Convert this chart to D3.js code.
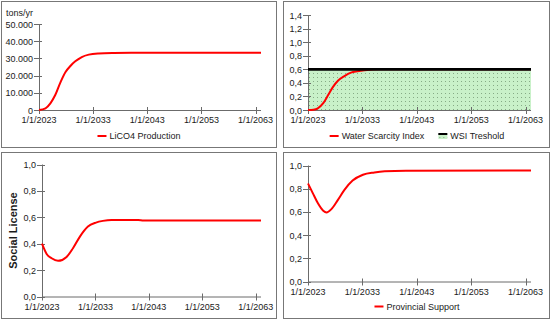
<!DOCTYPE html>
<html>
<head>
<meta charset="utf-8">
<script src="https://cdn.jsdelivr.net/npm/d3@7"></script>
<style>
  body { margin: 0; background: #fff; }
  svg { display: block; font-family: "Liberation Sans", Arial, sans-serif; }
</style>
</head>
<body>
<div id="my_dataviz"></div>
<script>

// x axis ticks shared by all four charts
var xTickYears = [2023, 2033, 2043, 2053, 2063];
var xTickLabels = ["1/1/2023", "1/1/2033", "1/1/2043", "1/1/2053", "1/1/2063"];

// LiCO4 production (tons/yr)
var prodYears = [2023, 2024.2, 2025.1, 2026, 2027, 2027.9, 2028.8, 2029.7, 2030.9, 2032.2, 2034, 2036.8, 2040, 2064];
var lico4Production = [0, 1000, 3900, 8700, 16400, 22100, 25600, 28300, 30800, 32200, 32900, 33200, 33300, 33300];
var prodTicks = [0, 10000, 20000, 30000, 40000, 50000];

// Water scarcity index and threshold
var wsiYears = [2023, 2024, 2024.8, 2025.8, 2026.7, 2027.6, 2028.5, 2029.7, 2030.9, 2032.1, 2033.4, 2036, 2064];
var waterScarcity = [0, 0.005, 0.025, 0.1, 0.22, 0.34, 0.43, 0.50, 0.55, 0.57, 0.585, 0.6, 0.6];
var wsiThreshold = 0.6;
var wsiTicks = [0, 0.2, 0.4, 0.6, 0.8, 1.0, 1.2, 1.4];

// Social license
var socialYears = [2023, 2023.9, 2024.8, 2026, 2027.6, 2028.8, 2030.1, 2031.6, 2033.1, 2034.4, 2036, 2041, 2042, 2064];
var socialLicense = [0.40, 0.32, 0.29, 0.27, 0.30, 0.366, 0.454, 0.53, 0.56, 0.573, 0.58, 0.58, 0.575, 0.575];

// Provincial support
var provYears = [2023, 2023.9, 2024.8, 2025.8, 2026.4, 2027.3, 2028.5, 2029.7, 2031.2, 2033.1, 2035.2, 2037.1, 2041, 2064];
var provincialSupport = [0.845, 0.76, 0.676, 0.61, 0.595, 0.624, 0.704, 0.79, 0.87, 0.92, 0.94, 0.95, 0.955, 0.957];
var unitTicks = [0, 0.2, 0.4, 0.6, 0.8, 1.0];

var locale = d3.formatLocale({decimal: ",", thousands: ".", grouping: [3], currency: ["", ""]});
var fmtThousands = locale.format(",d");
var fmtOne = locale.format(".1f");

var axisColor = "#6b6b6b";
var lineColor = "#ff0000";

var svg = d3.select("#my_dataviz")
  .append("svg")
    .attr("width", 551)
    .attr("height", 321);

// dotted green fill for the threshold area
var defs = svg.append("defs");
var pattern = defs.append("pattern")
    .attr("id", "dots")
    .attr("patternUnits", "userSpaceOnUse")
    .attr("width", 4)
    .attr("height", 4);
pattern.append("rect").attr("width", 4).attr("height", 4).attr("fill", "#c9f1c9");
pattern.append("rect").attr("x", 1).attr("y", 1).attr("width", 1).attr("height", 1).attr("fill", "#86ab86");

// panel frames
var frames = [[1, 1, 276, 147], [283, 1, 549, 147], [1, 152, 276, 318], [283, 152, 549, 318]];
svg.selectAll("rect.frame")
  .data(frames)
  .enter().append("rect")
    .attr("class", "frame")
    .attr("x", function(d) { return d[0] + 0.5; })
    .attr("y", function(d) { return d[1] + 0.5; })
    .attr("width", function(d) { return d[2] - d[0]; })
    .attr("height", function(d) { return d[3] - d[1]; })
    .attr("fill", "none")
    .attr("stroke", "#777");

function drawAxes(g, x, y, yTicks, fmt) {
  var x0 = x.range()[0], x1 = x.range()[1];
  var y0 = y.range()[0], yTop = y(yTicks[yTicks.length - 1]);

  // x axis line + crossing ticks
  g.append("line")
    .attr("x1", x0).attr("x2", x1)
    .attr("y1", y0 + 0.5).attr("y2", y0 + 0.5)
    .attr("stroke", axisColor);
  g.selectAll("line.xt")
    .data(xTickYears)
    .enter().append("line")
      .attr("x1", function(d) { return Math.round(x(d)) + 0.5; })
      .attr("x2", function(d) { return Math.round(x(d)) + 0.5; })
      .attr("y1", y0 - 3).attr("y2", y0 + 4)
      .attr("stroke", axisColor);
  g.selectAll("text.xl")
    .data(xTickYears)
    .enter().append("text")
      .attr("x", function(d) { return x(d); })
      .attr("y", y0 + 13)
      .attr("text-anchor", "middle")
      .attr("font-size", "9px")
      .attr("fill", "#1a1a1a")
      .text(function(d, i) { return xTickLabels[i]; });

  // y axis line + ticks
  g.append("line")
    .attr("x1", x0 + 0.5).attr("x2", x0 + 0.5)
    .attr("y1", yTop).attr("y2", y0)
    .attr("stroke", axisColor);
  g.selectAll("line.yt")
    .data(yTicks)
    .enter().append("line")
      .attr("x1", x0 - 5).attr("x2", x0 + 3)
      .attr("y1", function(d) { return Math.round(y(d)) + 0.5; })
      .attr("y2", function(d) { return Math.round(y(d)) + 0.5; })
      .attr("stroke", axisColor);
  g.selectAll("text.yl")
    .data(yTicks)
    .enter().append("text")
      .attr("x", x0 - 6)
      .attr("y", function(d) { return y(d) + 3.5; })
      .attr("text-anchor", "end")
      .attr("font-size", "9px")
      .attr("fill", "#1a1a1a")
      .text(function(d) { return fmt(d); });
}

function drawLine(g, x, y, xs, ys, color, width) {
  var line = d3.line()
    .curve(d3.curveMonotoneX)
    .x(function(d) { return x(d[0]); })
    .y(function(d) { return y(d[1]); });
  g.append("path")
    .datum(d3.zip(xs, ys))
    .attr("d", line)
    .attr("fill", "none")
    .attr("stroke", color)
    .attr("stroke-width", width);
}

// legend centred on a panel; items = [{label, type}]
function drawLegend(g, cx, cy, items) {
  var leg = g.append("g");
  var pos = 0;
  items.forEach(function(it, i) {
    if (i > 0) pos += 14;
    var item = leg.append("g").attr("transform", "translate(" + pos + ",0)");
    if (it.type == "line") {
      item.append("line")
        .attr("x1", 0).attr("x2", 9)
        .attr("y1", 0).attr("y2", 0)
        .attr("stroke", lineColor).attr("stroke-width", 2);
    } else {
      item.append("rect").attr("x", 0).attr("y", -2).attr("width", 9).attr("height", 5).attr("fill", "url(#dots)");
      item.append("line")
        .attr("x1", 0).attr("x2", 9)
        .attr("y1", -2).attr("y2", -2)
        .attr("stroke", "#000").attr("stroke-width", 2);
    }
    var t = item.append("text")
      .attr("x", 12)
      .attr("y", 3.2)
      .attr("font-size", "9px")
      .attr("fill", "#1a1a1a")
      .text(it.label);
    pos += 12 + t.node().getComputedTextLength();
  });
  leg.attr("transform", "translate(" + (cx - pos / 2) + "," + cy + ")");
}

// ---------------- LiCO4 production ----------------
var g1 = svg.append("g");
var x1 = d3.scaleLinear().domain([2023, 2064]).range([39, 261]);
var y1 = d3.scaleLinear().domain([0, 50000]).range([110, 24]);
drawAxes(g1, x1, y1, prodTicks, function(d) { return d == 0 ? "0" : fmtThousands(d); });
drawLine(g1, x1, y1, prodYears, lico4Production, lineColor, 2);
g1.append("text")
  .attr("x", 6).attr("y", 16)
  .attr("font-size", "9px").attr("fill", "#1a1a1a")
  .text("tons/yr");
drawLegend(g1, 139, 136, [{label: "LiCO4 Production", type: "line"}]);

// ---------------- Water scarcity ----------------
var g2 = svg.append("g");
var x2 = d3.scaleLinear().domain([2023, 2064]).range([308, 531]);
var y2 = d3.scaleLinear().domain([0, 1.4]).range([110, 15]);
g2.append("rect")
  .attr("x", x2(2023))
  .attr("y", y2(wsiThreshold))
  .attr("width", x2(2064) - x2(2023))
  .attr("height", y2(0) - y2(wsiThreshold))
  .attr("fill", "url(#dots)");
drawAxes(g2, x2, y2, wsiTicks, fmtOne);
drawLine(g2, x2, y2, wsiYears, waterScarcity, lineColor, 2);
// threshold drawn on top, slightly wider so the index hides under it once it reaches 0,6
g2.append("line")
  .attr("x1", x2(2023)).attr("x2", x2(2064))
  .attr("y1", y2(wsiThreshold)).attr("y2", y2(wsiThreshold))
  .attr("stroke", "#000").attr("stroke-width", 2.8);
drawLegend(g2, 417, 136, [{label: "Water Scarcity Index", type: "line"}, {label: "WSI Treshold", type: "area"}]);

// ---------------- Social license ----------------
var g3 = svg.append("g");
var x3 = d3.scaleLinear().domain([2023, 2064]).range([42, 261]);
var y3 = d3.scaleLinear().domain([0, 1]).range([296.5, 164.5]);
drawAxes(g3, x3, y3, unitTicks, fmtOne);
drawLine(g3, x3, y3, socialYears, socialLicense, lineColor, 2);
g3.append("text")
  .attr("transform", "translate(17," + ((y3(0) + y3(1)) / 2) + ") rotate(-90)")
  .attr("text-anchor", "middle")
  .attr("font-size", "11px")
  .attr("font-weight", "bold")
  .attr("fill", "#1a1a1a")
  .text("Social License");

// ---------------- Provincial support ----------------
var g4 = svg.append("g");
var x4 = d3.scaleLinear().domain([2023, 2064]).range([308, 531]);
var y4 = d3.scaleLinear().domain([0, 1]).range([281.5, 165.5]);
drawAxes(g4, x4, y4, unitTicks, fmtOne);
drawLine(g4, x4, y4, provYears, provincialSupport, lineColor, 2);
drawLegend(g4, 417, 306.5, [{label: "Provincial Support", type: "line"}]);

</script>
</body>
</html>
